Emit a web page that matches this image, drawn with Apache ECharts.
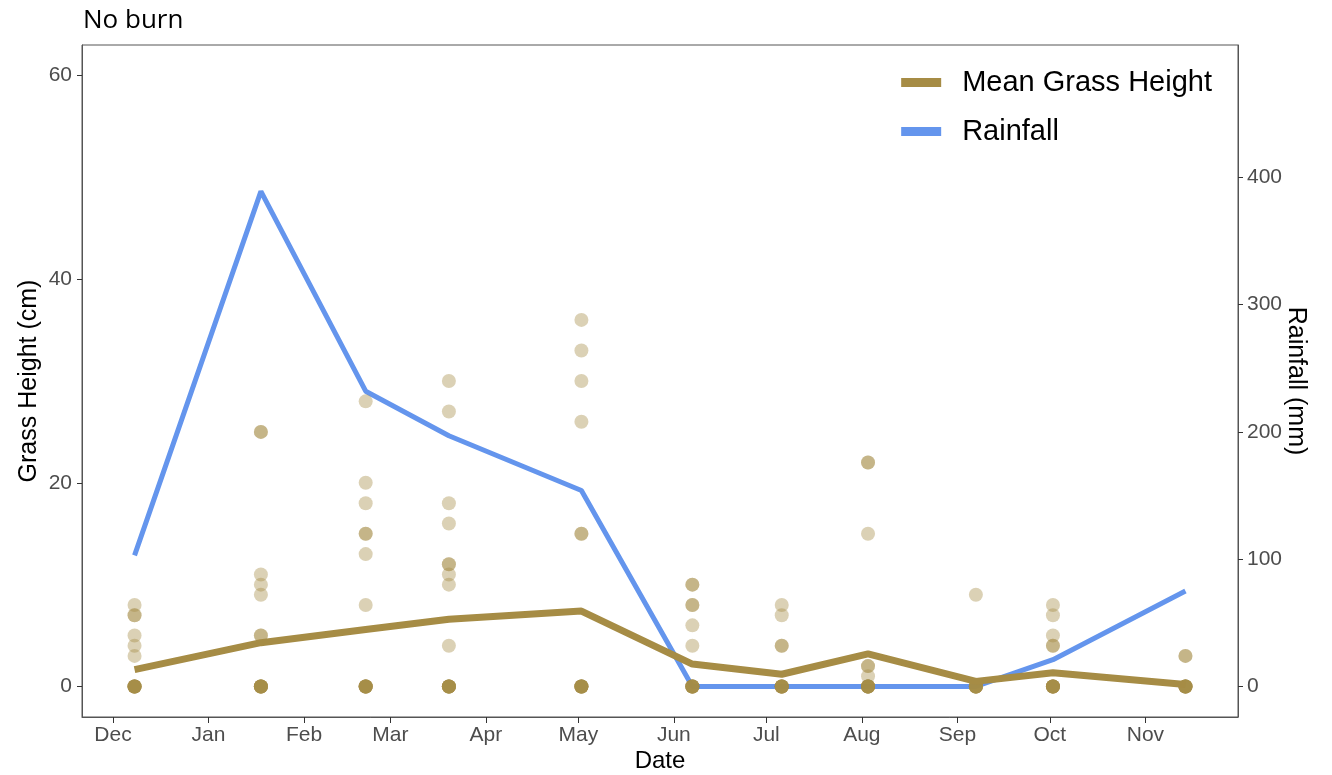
<!DOCTYPE html>
<html>
<head>
<meta charset="utf-8">
<script src="https://cdn.jsdelivr.net/npm/echarts@6/dist/echarts.min.js"></script>
<style>
  html, body { margin: 0; padding: 0; background: #fff; }
  #chart { width: 1332px; height: 775px; }
</style>
</head>
<body>
<div id="chart"></div>
<script>
// Sampling dates
const sampleDates = ['2018-12-08', '2019-01-18', '2019-02-21', '2019-03-20', '2019-05-02',
  '2019-06-07', '2019-07-06', '2019-08-03', '2019-09-07', '2019-10-02', '2019-11-14'];

// Individual grass height measurements (cm) per sampling date
const heightsDec = [8, 7, 7, 5, 4, 3, 0, 0, 0, 0, 0, 0, 0, 0];
const heightsJan = [25, 25, 11, 10, 9, 5, 5, 0, 0, 0, 0, 0, 0, 0, 0];
const heightsFeb = [28, 20, 18, 15, 15, 13, 8, 0, 0, 0, 0, 0, 0, 0, 0];
const heightsMar = [30, 27, 18, 16, 12, 12, 11, 10, 4, 0, 0, 0, 0, 0, 0, 0, 0];
const heightsMay = [36, 33, 30, 26, 15, 15, 0, 0, 0, 0, 0, 0, 0, 0];
const heightsJun = [10, 10, 8, 8, 6, 4, 0, 0, 0, 0, 0, 0, 0, 0];
const heightsJul = [8, 7, 4, 4, 0, 0, 0, 0, 0, 0, 0, 0];
const heightsAug = [22, 22, 15, 2, 2, 1, 0, 0, 0, 0, 0, 0, 0, 0];
const heightsSep = [9, 0, 0, 0, 0, 0, 0, 0, 0];
const heightsOct = [8, 7, 5, 4, 4, 0, 0, 0, 0, 0, 0, 0, 0];
const heightsNov = [3, 3, 0, 0, 0, 0, 0, 0, 0, 0];
const heightsByDate = [heightsDec, heightsJan, heightsFeb, heightsMar, heightsMay,
  heightsJun, heightsJul, heightsAug, heightsSep, heightsOct, heightsNov];

// Mean grass height (cm) per date
const meanHeight = [1.65, 4.3, 5.6, 6.6, 7.4, 2.2, 1.2, 3.2, 0.5, 1.35, 0.2];

// Rainfall (mm) per date
const rainfall = [103, 389, 232, 197, 154, 0, 0, 0, 0, 21, 75];

// Axis tick labels
const monthTicks = ['2018-12-01', '2019-01-01', '2019-02-01', '2019-03-01', '2019-04-01', '2019-05-01',
  '2019-06-01', '2019-07-01', '2019-08-01', '2019-09-01', '2019-10-01', '2019-11-01'];
const monthNames = ['Jan', 'Feb', 'Mar', 'Apr', 'May', 'Jun', 'Jul', 'Aug', 'Sep', 'Oct', 'Nov', 'Dec'];
const heightTicks = [0, 20, 40, 60];
const rainTicks = [0, 100, 200, 300, 400];

const ts = s => Date.parse(s + 'T00:00:00Z');
const dateTs = sampleDates.map(ts);
const tickTs = monthTicks.map(ts);

const span = dateTs[dateTs.length - 1] - dateTs[0];
const xMin = dateTs[0] - 0.05 * span;
const xMax = dateTs[dateTs.length - 1] + 0.05 * span;

const scatterData = [];
heightsByDate.forEach((arr, i) => arr.forEach(v => scatterData.push([dateTs[i], v])));

const GOLD = '#A68C45';
const BLUE = '#6495ED';
const FONT = 'Liberation Sans, Arial, sans-serif';
const AXIS_COL = '#555';
const TICK_FS = 21;

const chart = echarts.init(document.getElementById('chart'), null, { renderer: 'canvas' });
chart.setOption({
  animation: false,
  backgroundColor: '#fff',
  textStyle: { fontFamily: FONT },
  title: {
    text: 'No burn', left: 78, top: 3,
    textStyle: { fontFamily: 'Open Sans', fontSize: 26, fontWeight: 'normal', color: '#000' }
  },
  grid: {
    left: 82, right: 94, top: 45, bottom: 58,
    outerBoundsMode: 'none', containLabel: false,
    show: true, borderColor: AXIS_COL, borderWidth: 1, backgroundColor: 'transparent'
  },
  legend: {
    data: ['Mean Grass Height', 'Rainfall'],
    orient: 'vertical', right: 115, top: 63,
    icon: 'rect', itemWidth: 40, itemHeight: 9, itemGap: 20,
    textStyle: { fontFamily: FONT, fontSize: 29, color: '#000', padding: [0, 0, 0, 16] }
  },
  xAxis: {
    type: 'value', min: xMin, max: xMax,
    name: 'Date', nameLocation: 'middle', nameGap: 32, nameMoveOverlap: false,
    nameTextStyle: { fontFamily: FONT, fontSize: 24, color: '#000' },
    axisLine: { show: true, onZero: false, lineStyle: { color: AXIS_COL } },
    axisTick: { show: true, length: 6, lineStyle: { color: '#333' }, customValues: tickTs },
    axisLabel: {
      customValues: tickTs, margin: 8, fontSize: TICK_FS, color: '#4D4D4D', fontFamily: FONT,
      formatter: v => monthNames[new Date(v).getUTCMonth()]
    },
    splitLine: { show: false }
  },
  yAxis: [{
    type: 'value', min: -3, max: 63, position: 'left',
    name: 'Grass Height (cm)', nameLocation: 'middle', nameGap: 40, nameRotate: 90, nameMoveOverlap: false,
    nameTextStyle: { fontFamily: FONT, fontSize: 25, color: '#000' },
    axisLine: { show: true, onZero: false, lineStyle: { color: AXIS_COL } },
    axisTick: { show: true, length: 5, lineStyle: { color: '#333' }, customValues: heightTicks },
    axisLabel: { customValues: heightTicks, margin: 10, fontSize: TICK_FS, color: '#4D4D4D', fontFamily: FONT },
    splitLine: { show: false }
  }, {
    type: 'value', min: -24, max: 504, position: 'right',
    name: 'Rainfall (mm)', nameLocation: 'middle', nameGap: 45, nameRotate: -90, nameMoveOverlap: false,
    nameTextStyle: { fontFamily: FONT, fontSize: 25, color: '#000' },
    axisLine: { show: true, onZero: false, lineStyle: { color: AXIS_COL } },
    axisTick: { show: true, length: 5, lineStyle: { color: '#333' }, customValues: rainTicks },
    axisLabel: { customValues: rainTicks, margin: 9, fontSize: TICK_FS, color: '#4D4D4D', fontFamily: FONT },
    splitLine: { show: false }
  }],
  series: [{
    name: 'Rainfall', type: 'line', yAxisIndex: 1, z: 2,
    data: dateTs.map((t, i) => [t, rainfall[i]]),
    showSymbol: false, color: BLUE,
    lineStyle: { color: BLUE, width: 5 }
  }, {
    name: 'Heights', type: 'scatter', yAxisIndex: 0, z: 3,
    data: scatterData, symbolSize: 14,
    itemStyle: { color: GOLD, opacity: 0.4 }
  }, {
    name: 'Mean Grass Height', type: 'line', yAxisIndex: 0, z: 4,
    data: dateTs.map((t, i) => [t, meanHeight[i]]),
    showSymbol: false, color: GOLD,
    lineStyle: { color: GOLD, width: 7 }
  }]
});
</script>
</body>
</html>
